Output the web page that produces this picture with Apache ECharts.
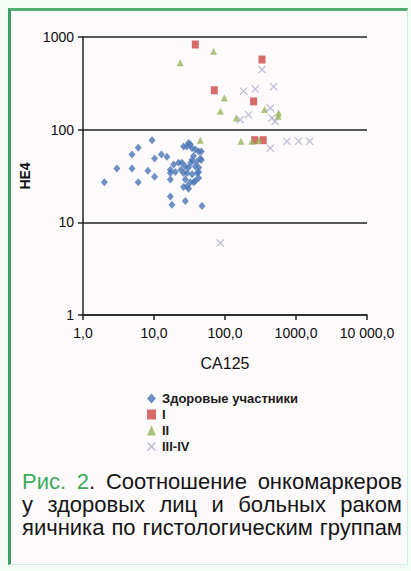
<!DOCTYPE html>
<html>
<head>
<meta charset="utf-8">
<script src="https://cdn.jsdelivr.net/npm/echarts@6/dist/echarts.min.js"></script>
<style>
  html, body { margin: 0; padding: 0; background: #ffffff; }
  #wrap { position: relative; width: 411px; height: 571px; overflow: hidden; background: #f4fbf7; }
  #frame { position: absolute; left: 8px; top: 8px; width: 396px; height: 553px;
           border-left: 3px solid #3f9c62; border-top: 3px solid #52ad72;
           border-right: 1px solid #cdeee4; border-bottom: 1px solid #cdeee4;
           background: #fdfafc; }
  #chart { position: absolute; left: 0; top: 0; width: 411px; height: 571px; }
  #caption { position: absolute; left: 22px; top: 470px; width: 380px;
             font-family: "Liberation Sans", Arial, sans-serif; font-size: 22px; color: #151515; }
  #caption div { white-space: nowrap; text-align: justify; text-align-last: justify; line-height: 23px; height: 23px; }
  #caption .fig { color: #3bab5c; }
</style>
</head>
<body>
<div id="wrap">
  <div id="frame"></div>
  <div id="chart"></div>
  <div id="caption">
    <div><span class="fig">Рис. 2</span>. Соотношение онкомаркеров</div>
    <div>у здоровых лиц и больных раком</div>
    <div>яичника по гистологическим группам</div>
  </div>
</div>
<script>
// ---- data: [CA125, HE4] ----
const seriesNames = ['Здоровые участники', 'I', 'II', 'III-IV'];
const healthy = [
  [2.0,27],[3.0,38],[4.9,38],[4.9,54],[6.0,64],[6.0,27],[8.2,36],[9.4,77],[10.2,31],[10.2,49],
  [12.7,54],[15.2,51],[17,29],[17,37],[17,19],[17.9,15.5],[18.9,42],[20,35],[17,34],[22.2,44],
  [24.8,44],[26.1,66],[26.1,24],[27.6,40],[27.6,29],[27.6,17],[29.2,34],[30.7,72],[30.7,23],[32.5,27],
  [34.3,63],[34.3,47],[34.3,33],[36.1,52],[38.2,40],[38.2,28],[40.4,34],[42.5,58],[42.5,35],[44.9,49],
  [46.4,47],[47.4,15],[29,66],[32.5,69],[38.2,61],[46.4,58],[42.5,39],[30.7,39],[26.1,34],[36.1,27],
  [29.3,24.5],[42.5,30],[24,37],[33,44],[40,45]
];
const stageI = [[38.2,830],[70.7,266],[332,571],[253,202],[262,77],[345,77]];
const stageII = [[23.4,526],[69,702],[98,220],[86,158],[144,134],[361,165],[569,151],[44.9,77],[168,75],[240,75],[300,77],[560,140]];
const stageIIIIV = [[267,275],[484,290],[183,260],[332,445],[215,145],[164,128],[459,134],[509,123],[434,171],[435,63],[747,75],[1088,75],[1556,75],[86,6]];
const xTickLabels = ['1,0', '10,0', '100,0', '1000,0', '10 000,0'];
const yTickLabels = ['1', '10', '100', '1000'];

const xSymbol = 'path://M0,1 L1,0 L5,4 L9,0 L10,1 L6,5 L10,9 L9,10 L5,6 L1,10 L0,9 L4,5 Z';
const font = '"Liberation Sans", Arial, sans-serif';

const chart = echarts.init(document.getElementById('chart'), null, { renderer: 'svg', width: 411, height: 571 });
chart.setOption({
  backgroundColor: 'transparent',
  animation: false,
  grid: { left: 83, right: 44, top: 37, bottom: 256, containLabel: false },
  xAxis: {
    type: 'log', logBase: 10, min: 1, max: 10000,
    name: 'CA125', nameLocation: 'middle', nameGap: 40,
    nameTextStyle: { fontFamily: font, fontSize: 16, color: '#111' },
    axisLine: { lineStyle: { color: '#222', width: 1.5 } },
    axisTick: { show: true, inside: false, length: 5, lineStyle: { color: '#222', width: 1.5 } },
    minorTick: { show: false },
    splitLine: { show: false },
    axisLabel: {
      margin: 11, fontFamily: font, fontSize: 14, color: '#0d0d0d',
      formatter: v => xTickLabels[Math.round(Math.log10(v))]
    }
  },
  yAxis: {
    type: 'log', logBase: 10, min: 1, max: 1000,
    name: 'HE4', nameLocation: 'middle', nameGap: 41, nameRotate: 90,
    nameTextStyle: { fontFamily: font, fontSize: 14, fontWeight: 'bold', color: '#111' },
    axisLine: { show: true, lineStyle: { color: '#222', width: 1.5 } },
    axisTick: { show: true, inside: false, length: 5, lineStyle: { color: '#222', width: 1.5 } },
    minorTick: { show: false },
    splitLine: { show: true, lineStyle: { color: '#222', width: 1.5 } },
    axisLabel: {
      margin: 9, fontFamily: font, fontSize: 14, color: '#0d0d0d',
      formatter: v => yTickLabels[Math.round(Math.log10(v))]
    }
  },
  legend: {
    orient: 'vertical', left: 142, top: 387, itemGap: 3, itemWidth: 9, itemHeight: 10,
    textStyle: { fontFamily: font, fontSize: 13, fontWeight: 'bold', color: '#1a1a1a', padding: [0,0,0,1] },
    data: seriesNames
  },
  series: [
    { name: seriesNames[0], type: 'scatter', data: healthy, symbol: 'diamond', symbolSize: [7, 8],
      itemStyle: { color: '#4876b6' } },
    { name: seriesNames[1], type: 'scatter', data: stageI, symbol: 'rect', symbolSize: [7, 8],
      itemStyle: { color: '#cc4745' } },
    { name: seriesNames[2], type: 'scatter', data: stageII, symbol: 'triangle', symbolSize: 7,
      itemStyle: { color: '#97b55a' } },
    { name: seriesNames[3], type: 'scatter', data: stageIIIIV, symbol: xSymbol, symbolSize: 8,
      itemStyle: { color: '#aaa5c8' } }
  ]
});
</script>
</body>
</html>
